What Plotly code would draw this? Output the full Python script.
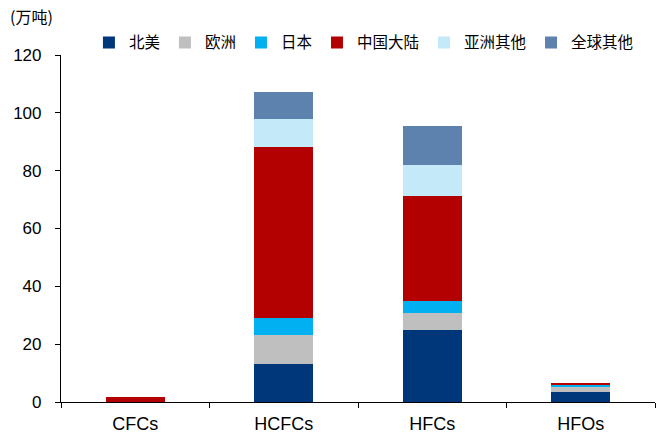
import plotly.graph_objects as go

# Refrigerant consumption by region (10k tonnes)
categories = ["CFCs", "HCFCs", "HFCs", "HFOs"]
regions = ["北美", "欧洲", "日本", "中国大陆", "亚洲其他", "全球其他"]
north_america = [0.0, 13.1, 24.8, 3.3]
europe = [0.0, 10.0, 6.1, 1.9]
japan = [0.0, 5.8, 4.0, 0.7]
china_mainland = [1.6, 59.2, 36.5, 0.5]
asia_other = [0.0, 9.7, 10.7, 0.0]
rest_of_world = [0.0, 9.5, 13.3, 0.0]
y_ticks = [0, 20, 40, 60, 80, 100, 120]

series = [north_america, europe, japan, china_mainland, asia_other, rest_of_world]
colors = ["#00377A", "#BFBFBF", "#00B0F0", "#B30000", "#C4EAFA", "#5E82AE"]

fig = go.Figure()
for name, vals, col in zip(regions, series, colors):
    fig.add_trace(go.Bar(
        x=categories, y=vals, name=name,
        marker=dict(color=col, line=dict(width=0)),
    ))

fig.update_layout(
    barmode="stack",
    bargap=0.6,
    width=665, height=434,
    margin=dict(l=61, r=10, t=55, b=32),
    plot_bgcolor="white", paper_bgcolor="white",
    font=dict(family="Liberation Sans, Arial, sans-serif", color="#000000", size=16),
    legend=dict(
        orientation="h",
        x=0.51, xanchor="center",
        y=1.035, yanchor="middle",
        font=dict(family="Noto Sans CJK SC", size=15.5, color="#000000"),
        itemwidth=30,
        traceorder="normal",
        bgcolor="rgba(0,0,0,0)",
    ),
    annotations=[dict(
        text="(万吨)", xref="paper", yref="paper",
        x=0, y=1, xanchor="left", yanchor="bottom",
        xshift=-53, yshift=25,
        showarrow=False,
        font=dict(family="Noto Sans CJK SC", size=16, color="#000000"),
    )],
)

fig.update_xaxes(
    showline=True, linecolor="#000000", linewidth=1.2,
    ticks="outside", tickson="boundaries", ticklen=5, tickcolor="#000000",
    tickfont=dict(size=18),
    ticklabelstandoff=5,
    showgrid=False, automargin=False,
)
fig.update_yaxes(
    range=[0, 120], tickvals=y_ticks,
    showline=True, linecolor="#000000", linewidth=1.2,
    ticks="outside", ticklen=5, tickcolor="#000000",
    tickfont=dict(size=17),
    ticklabelstandoff=10,
    showgrid=False, zeroline=False, automargin=False,
)

fig.write_html("out.html")
